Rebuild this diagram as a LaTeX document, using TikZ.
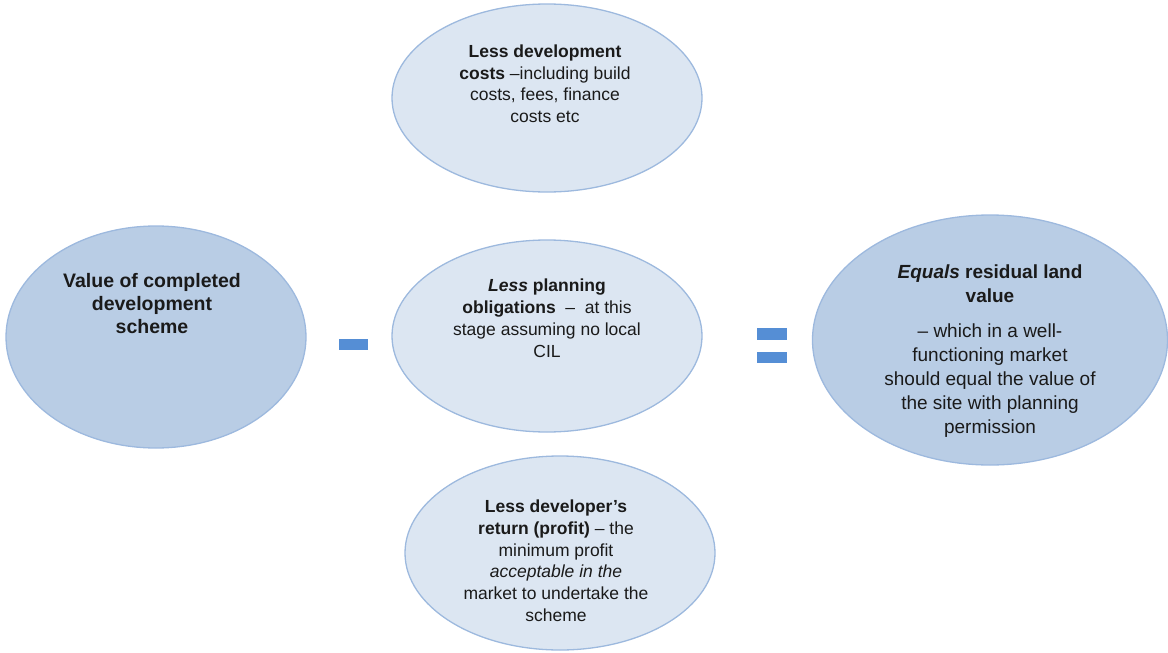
\documentclass[tikz,border=0pt]{standalone}
\usepackage{fontspec}
\setmainfont{Liberation Sans}
\usetikzlibrary{shapes.geometric}
\definecolor{darkfill}{HTML}{B9CDE5}
\definecolor{lightfill}{HTML}{DCE6F2}
\definecolor{blobline}{HTML}{9DB9DE}
\definecolor{signblue}{HTML}{558ED5}
\definecolor{txtcol}{HTML}{1A1A1A}
\begin{document}
\begin{tikzpicture}[x=1pt,y=-1pt,
  blob/.style={ellipse, draw=blobline, line width=1.3pt, inner sep=0},
  darkblob/.style={blob, fill=darkfill},
  lightblob/.style={blob, fill=lightfill},
  txt/.style={align=center, inner sep=0, anchor=north, text=txtcol},
  signbar/.style={fill=signblue, draw=none}
]
\useasboundingbox (0,0) rectangle (1168,653);
% ellipses
\node[lightblob, minimum width=310pt, minimum height=188pt] (top) at (547,98) {};
\node[darkblob, minimum width=300pt, minimum height=222pt] (left) at (156,337) {};
\node[lightblob, minimum width=310pt, minimum height=192pt] (mid) at (547,336) {};
\node[darkblob, minimum width=355pt, minimum height=250pt] (right) at (990,340) {};
\node[lightblob, minimum width=310pt, minimum height=194pt] (bot) at (560,553) {};
% texts
\node[txt, font=\fontsize{17.5}{21.5}\selectfont] (toptxt) at (545,45)
  {\textbf{Less development}\\\textbf{costs} –including build\\costs, fees, finance\\costs etc};
\node[txt, font=\fontsize{19.5}{23}\selectfont\bfseries] (lefttxt) at (152,273)
  {Value of completed\\development\\scheme};
\node[txt, font=\fontsize{17.5}{22}\selectfont] (midtxt) at (547,279)
  {\textbf{\textit{Less} planning}\\\textbf{obligations}\ \ –\ \ at this\\stage assuming no local\\CIL};
\node[txt, font=\fontsize{19}{24}\selectfont] (righttxt) at (990,265)
  {\textbf{\textit{Equals} residual land}\\\textbf{value}\\[11pt]– which in a well-\\functioning market\\should equal the value of\\the site with planning\\permission};
\node[txt, font=\fontsize{17.5}{21.7}\selectfont] (bottxt) at (556,500)
  {\textbf{Less developer’s}\\\textbf{return (profit)} – the\\minimum profit\\\textit{acceptable in the}\\market to undertake the\\scheme};
% signs
\node[signbar, minimum width=29pt, minimum height=11pt, inner sep=0] (minus) at (353.5,344.5) {};
\node[signbar, minimum width=30pt, minimum height=12pt, inner sep=0] (eqtop) at (772,334) {};
\node[signbar, minimum width=30pt, minimum height=11pt, inner sep=0] (eqbot) at (772,357.5) {};
\end{tikzpicture}
\end{document}
